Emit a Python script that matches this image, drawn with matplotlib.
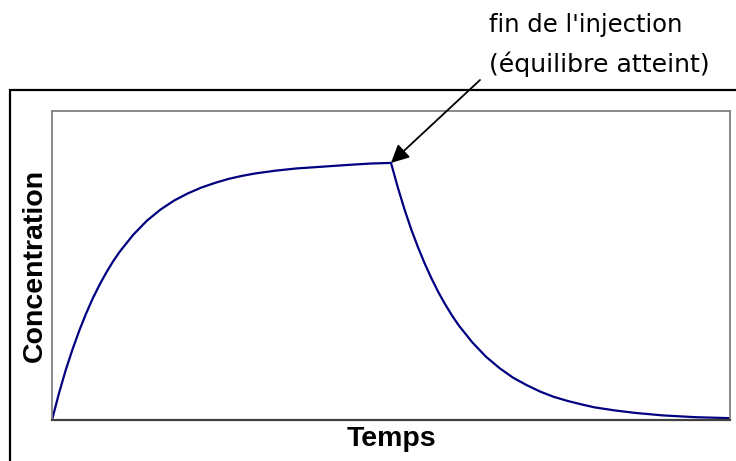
import numpy as np
import matplotlib.pyplot as plt
from matplotlib.patches import Rectangle

# time (arbitrary units) and concentration:
# injection phase (rise to equilibrium) then wash-out
temps = [0, 1, 2, 3, 4, 5, 6, 7, 8, 9, 10, 12, 14, 16, 18, 20, 22, 24, 26, 28, 30,
         33, 36, 40, 44, 47, 50,
         51, 52, 53, 54, 55, 56, 57, 58, 59, 60, 62, 64, 66, 68, 70, 72, 74, 76, 78,
         80, 83, 86, 90, 95, 100]
conc = [0, 8.4, 16.0, 22.7, 28.8, 34.3, 39.3, 43.7, 47.7, 51.3, 54.5, 60.0, 64.5, 68.1,
        71.0, 73.3, 75.2, 76.7, 78.0, 79.0, 79.8, 80.7, 81.4, 82.0, 82.6, 83.0, 83.2,
        75.3, 68.1, 61.6, 55.8, 50.5, 45.7, 41.3, 37.4, 33.8, 30.6, 25.1, 20.5, 16.8,
        13.7, 11.3, 9.2, 7.5, 6.2, 5.1, 4.1, 3.1, 2.3, 1.5, 0.9, 0.6]
t_fin = 50
c_fin = 83.2

fig = plt.figure(figsize=(7.36, 4.61), dpi=100)
fig.patch.set_facecolor('white')

# outer chart frame
fig.patches.append(Rectangle((10 / 736, -0.1), 1.2, 0.1 + 1 - 90 / 461,
                             transform=fig.transFigure, fill=False,
                             edgecolor='black', lw=1.6, clip_on=False))

ax = fig.add_axes([52 / 736, 1 - 420 / 461, 678 / 736, 309 / 461])
ax.plot(temps, conc, color='#000080', lw=1.6, solid_joinstyle='round')
ax.set_xlim(0, 100)
ax.set_ylim(0, 100)
ax.set_xticks([])
ax.set_yticks([])
for side in ['left', 'top', 'right']:
    ax.spines[side].set_color('#808080')
    ax.spines[side].set_linewidth(1.3)
ax.spines['bottom'].set_color('#404040')
ax.spines['bottom'].set_linewidth(1.6)

ax.set_xlabel('Temps', family='Liberation Sans', fontweight='bold', fontsize=20.5,
              labelpad=4)
ax.set_ylabel('Concentration', family='Liberation Sans', fontweight='bold',
              fontsize=20.5, labelpad=3)

ax.annotate('', xy=(t_fin, c_fin), xycoords='data',
            xytext=(480 / 736, 1 - 80 / 461), textcoords='figure fraction',
            arrowprops=dict(arrowstyle='-|>', color='black', lw=1.3,
                            mutation_scale=27, shrinkA=0, shrinkB=0))
fig.text(489 / 736, 1 - 32 / 461, "fin de l'injection", family='DejaVu Sans',
         fontsize=17.5, ha='left', va='baseline')
fig.text(489 / 736, 1 - 72 / 461, "(équilibre atteint)", family='DejaVu Sans',
         fontsize=18.2, ha='left', va='baseline')

fig.savefig('out.png', dpi=100)
